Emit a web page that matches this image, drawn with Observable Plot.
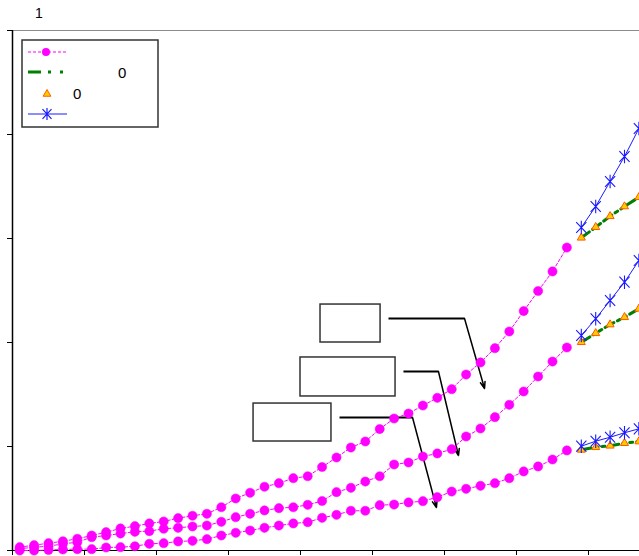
<!DOCTYPE html>
<html><head><meta charset="utf-8">
<script src="https://cdn.jsdelivr.net/npm/d3@7"></script>
<script src="https://cdn.jsdelivr.net/npm/@observablehq/plot@0.6"></script>
<style>
body{margin:0;background:#fff;overflow:hidden;font-family:"Liberation Sans",Arial,sans-serif;}
#chart svg{overflow:hidden !important;display:block;}
</style></head><body><div id="chart"></div>
<script>
// Category positions (1..44), ticks every 5 categories
const categories = Array.from({length: 44}, (_, i) => i + 1);
const xTickPositions = [0, 5, 10, 15, 20, 25, 30, 35, 40];
const yTickPositions = [0, 1, 2, 3, 4, 5];
const titleText = "1";
const legendTexts = ["", "0", "0", ""];

// Magenta dotted series (categories 1..39)
const dotsTop = [0.032,0.051,0.070,0.089,0.113,0.144,0.176,0.212,0.234,0.260,0.279,0.311,0.334,0.353,0.416,0.500,0.555,0.613,0.647,0.695,0.714,0.803,0.894,0.990,1.048,1.168,1.269,1.317,1.394,1.468,1.551,1.692,1.808,1.945,2.106,2.302,2.495,2.683,2.913];
const dotsMid = [0.016,0.032,0.041,0.064,0.080,0.128,0.144,0.163,0.180,0.186,0.209,0.218,0.231,0.240,0.276,0.320,0.353,0.385,0.407,0.416,0.439,0.476,0.561,0.603,0.663,0.714,0.827,0.846,0.904,0.933,0.974,1.096,1.173,1.282,1.401,1.529,1.673,1.817,1.952];
const dotsBot = [0.000,0.000,0.005,0.010,0.013,0.013,0.029,0.032,0.041,0.064,0.070,0.087,0.093,0.109,0.144,0.170,0.192,0.218,0.240,0.260,0.272,0.314,0.343,0.382,0.382,0.436,0.442,0.462,0.474,0.513,0.567,0.593,0.622,0.647,0.695,0.760,0.808,0.875,0.962];

// Continuation series (categories 40..44)
const starTop = [3.106,3.308,3.548,3.788,4.058];
const starMid = [2.067,2.228,2.404,2.580,2.788];
const starBot = [1.003,1.051,1.089,1.132,1.170];
const triTop = [3.007,3.109,3.214,3.308,3.397];
const triMid = [2.003,2.089,2.173,2.243,2.324];
const triBot = [0.968,0.993,1.007,1.032,1.048];
const greenTop = [3.007,3.109,3.214,3.308,3.397];
const greenMid = [2.003,2.089,2.173,2.243,2.324];
const greenBot = [0.968,0.993,1.007,1.032,1.048];

// Empty annotation boxes (data units) and their leader lines
const boxX1 = [21.39, 20.0, 16.74];
const boxX2 = [25.56, 26.6, 22.15];
const boxY1 = [2.0, 1.481, 1.048];
const boxY2 = [2.365, 1.856, 1.413];
const leadStartX = [26.11, 27.15, 22.71];
const leadCornerX = [31.39, 29.58, 27.78];
const leadY = [2.231, 1.721, 1.279];
const arrowEndX = [32.78, 30.97, 29.44];
const arrowEndY = [1.558, 0.913, 0.413];

const magenta = "#ff00ff", green = "#008000", blue = "#1a1aff";

function rows(vals, start, s) { return vals.map((v, i) => ({cat: categories[start + i], v, s})); }
const dotData = [...rows(dotsTop, 0, "t"), ...rows(dotsMid, 0, "m"), ...rows(dotsBot, 0, "b")];
const starData = [...rows(starTop, 39, "t"), ...rows(starMid, 39, "m"), ...rows(starBot, 39, "b")];
const triData = [...rows(triTop, 39, "t"), ...rows(triMid, 39, "m"), ...rows(triBot, 39, "b")];
const greenData = [...rows(greenTop, 39, "t"), ...rows(greenMid, 39, "m"), ...rows(greenBot, 39, "b")];
const boxes = boxX1.map((x1, i) => ({x1, x2: boxX2[i], y1: boxY1[i], y2: boxY2[i]}));
const leads = leadStartX.map((x1, i) => ({x1, x2: leadCornerX[i], y: leadY[i], x3: arrowEndX[i], y3: arrowEndY[i]}));

const asterisk = {
  draw(ctx, size) {
    const r = Math.sqrt(size / Math.PI);
    ctx.moveTo(0, -r); ctx.lineTo(0, r);
    ctx.moveTo(-0.75 * r, -0.8 * r); ctx.lineTo(0.75 * r, 0.8 * r);
    ctx.moveTo(0.75 * r, -0.8 * r); ctx.lineTo(-0.75 * r, 0.8 * r);
  }
};

const X = d => d.cat - 0.5;
const chart = Plot.plot({
  width: 639, height: 556,
  marginLeft: 12, marginRight: 0, marginTop: 30, marginBottom: 6,
  x: {domain: [0, (639 - 12) / 14.4], axis: null},
  y: {domain: [0, 5], axis: null},
  marks: [
    Plot.ruleY([5], {stroke: "#8c8c8c", strokeWidth: 1}),
    Plot.axisX(xTickPositions, {anchor: "bottom", tickSize: 5, tickFormat: () => "", label: null, stroke: "#000"}),
    Plot.axisY(yTickPositions, {anchor: "left", tickSize: 5, tickFormat: () => "", label: null, stroke: "#000"}),
    Plot.ruleX([0], {stroke: "#000", strokeWidth: 1.5}),
    Plot.ruleY([0], {stroke: "#000", strokeWidth: 1}),
    Plot.rect(boxes, {x1: "x1", x2: "x2", y1: "y1", y2: "y2", fill: "#fff", stroke: "#333", strokeWidth: 1.5}),
    Plot.link(leads, {x1: "x1", x2: "x2", y1: "y", y2: "y", stroke: "#000", strokeWidth: 1.8}),
    Plot.arrow(leads, {x1: "x2", y1: "y", x2: "x3", y2: "y3", stroke: "#000", strokeWidth: 1.5, headLength: 7, headAngle: 40}),
    Plot.line(dotData, {x: X, y: "v", z: "s", stroke: magenta, strokeWidth: 1, strokeDasharray: "3,2"}),
    Plot.dot(dotData, {x: X, y: "v", r: 4.6, fill: magenta, stroke: magenta, strokeWidth: 0.5}),
    Plot.line(greenData, {x: X, y: "v", z: "s", stroke: green, strokeWidth: 3, strokeDasharray: "10,4,3,4,3,4"}),
    Plot.dot(triData, {x: X, y: "v", symbol: "triangle", r: 3.0, fill: "#ffcc00", stroke: "#ff5a00", strokeWidth: 1}),
    Plot.line(starData, {x: X, y: "v", z: "s", stroke: blue, strokeWidth: 1}),
    Plot.dot(starData, {x: X, y: "v", symbol: asterisk, r: 6.8, fill: "none", stroke: blue, strokeWidth: 1.1})
  ]
});
document.getElementById("chart").appendChild(chart);

// title and legend drawn into the same svg
const svg = d3.select(chart);
const font = "'Liberation Sans', Arial, sans-serif";
svg.append("text").attr("x", 35).attr("y", 18).attr("text-anchor", "start")
  .style("font-size", "14px").style("font-family", font).attr("fill", "#000").text(titleText);
const lg = svg.append("g");
lg.append("rect").attr("x", 22).attr("y", 40).attr("width", 136).attr("height", 87)
  .attr("fill", "#fff").attr("stroke", "#333").attr("stroke-width", 1.5);
lg.append("line").attr("x1", 28).attr("x2", 67).attr("y1", 52).attr("y2", 52)
  .attr("stroke", magenta).attr("stroke-dasharray", "3,2");
lg.append("circle").attr("cx", 46).attr("cy", 52).attr("r", 4).attr("fill", magenta);
lg.append("line").attr("x1", 28).attr("x2", 67).attr("y1", 72).attr("y2", 72)
  .attr("stroke", green).attr("stroke-width", 3).attr("stroke-dasharray", "13,7,3,9,3,9");
lg.append("path").attr("transform", "translate(47,94)")
  .attr("d", d3.symbol(d3.symbolTriangle, 26)()).attr("fill", "#ffcc00").attr("stroke", "#ff5a00");
lg.append("line").attr("x1", 28).attr("x2", 67).attr("y1", 114).attr("y2", 114)
  .attr("stroke", blue);
lg.append("path").attr("transform", "translate(47,114)")
  .attr("d", d3.symbol(asterisk, Math.PI * 36)()).attr("fill", "none").attr("stroke", blue).attr("stroke-width", 1.2);
const legendTextPos = [[0, 0], [118, 78], [73, 99], [0, 0]];
legendTexts.forEach((t, i) => {
  if (!t) return;
  lg.append("text").attr("x", legendTextPos[i][0]).attr("y", legendTextPos[i][1]).attr("text-anchor", "start")
    .style("font-size", "15px").style("font-family", font).attr("fill", "#000").text(t);
});
</script></body></html>
